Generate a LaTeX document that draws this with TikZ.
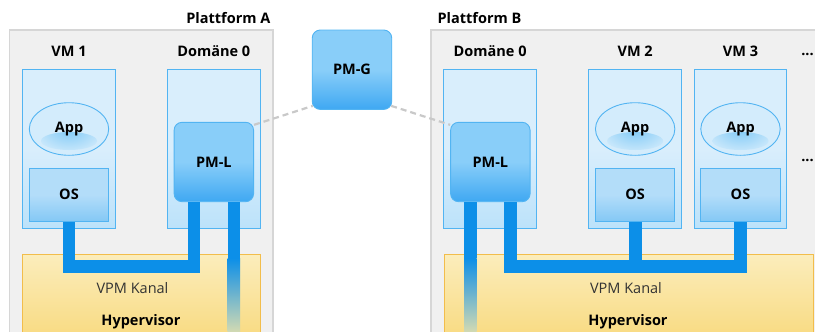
\documentclass[tikz,border=0pt]{standalone}
\usepackage{fontspec}
\setmainfont{Open Sans}
\usepackage{tikz}
\usetikzlibrary{positioning,shapes.geometric}

\definecolor{grau}{HTML}{F0F0F0}
\definecolor{graurand}{HTML}{D6D6D6}
\definecolor{vmrand}{HTML}{52B4F2}
\definecolor{vmoben}{HTML}{D9EEFC}
\definecolor{vmunten}{HTML}{BCE2FA}
\definecolor{applicht}{HTML}{D3ECFC}
\definecolor{appglanz}{HTML}{7FC9F6}
\definecolor{osoben}{HTML}{B3DDF9}
\definecolor{osunten}{HTML}{84C8F5}
\definecolor{pmoben}{HTML}{89CEF9}
\definecolor{pmunten}{HTML}{3FA8F2}
\definecolor{hvoben}{HTML}{FBEDBC}
\definecolor{hvunten}{HTML}{F8D776}
\definecolor{hvrand}{HTML}{F2BD4B}
\definecolor{kanalblau}{HTML}{0C8FE8}
\definecolor{blass}{HTML}{D3DAB2}
\definecolor{verbgrau}{HTML}{C9C9C9}
\definecolor{textgrau}{HTML}{333333}

\newcommand{\schrift}{\fontsize{14.5}{17}\selectfont}

\begin{document}
\begin{tikzpicture}[x=1pt,y=-1pt,inner sep=0pt,line join=miter,font=\schrift]
	\tikzstyle{plattform}=[draw=graurand,line width=1.2pt,fill=grau,minimum height=315pt]
	\tikzstyle{vm}=[draw=vmrand,line width=0.9pt,top color=vmoben,bottom color=vmunten,
										middle color=vmoben,minimum width=92.5pt,minimum height=158.7pt]
	\tikzstyle{app}=[ellipse,draw=vmrand,line width=0.9pt,fill=applicht,font=\schrift\bfseries,
										minimum width=79.4pt,minimum height=52.6pt,
										path picture={\shade[inner color=appglanz,outer color=applicht]
											([yshift=-12pt]path picture bounding box.center) ellipse (28pt and 9pt);}]
	\tikzstyle{os}=[draw=vmrand,line width=0.9pt,top color=osoben,bottom color=osunten,
										middle color=osoben,minimum width=79.4pt,minimum height=53pt,
										font=\schrift\bfseries]
	\tikzstyle{pm}=[draw=vmrand,line width=0.9pt,rounded corners=8pt,top color=pmoben,
										bottom color=pmunten,middle color=pmoben,minimum width=79.5pt,
										minimum height=79.4pt,font=\schrift\bfseries]
	\tikzstyle{hyp}=[draw=hvrand,line width=1pt,top color=hvoben,bottom color=hvunten,
										minimum height=100pt]
	\tikzstyle{titel}=[font=\schrift\bfseries]
	\tikzstyle{kanal}=[draw=kanalblau,line width=12.7pt]
	\tikzstyle{verb}=[draw=verbgrau,line width=2.2pt,dash pattern=on 6pt off 4pt]

	\clip (0,0) rectangle (815,332);

	\node[plattform,minimum width=263.5pt] (platA) at (141.25,187.5) {};
	\node[plattform,minimum width=399pt]   (platB) at (630.5,187.5) {};
	\node[titel,anchor=base east] (tA) at ([xshift=-3pt,yshift=5.7pt]platA.north east) {Plattform A};
	\node[titel,anchor=base west] (tB) at ([xshift=7pt,yshift=5.7pt]platB.north west) {Plattform B};

	\node[hyp,minimum width=237.6pt] (hypA) at (141.5,304) {};
	\node[hyp,minimum width=369.3pt] (hypB) at (628.65,304) {};

	\node[vm] (vm1)   at (69,148.65) {};
	\node[vm] (dom0A) at (213.8,148.65) {};
	\node[vm] (dom0B) at (490.15,148.65) {};
	\node[vm] (vm2)   at (635.15,148.65) {};
	\node[vm] (vm3)   at (740.5,148.65) {};

	\node[titel,anchor=base] (lvm1)   at ([yshift=12pt]vm1.north)   {VM 1};
	\node[titel,anchor=base] (ldom0A) at ([yshift=12pt]dom0A.north) {Domäne 0};
	\node[titel,anchor=base] (ldom0B) at ([yshift=12pt]dom0B.north) {Domäne 0};
	\node[titel,anchor=base] (lvm2)   at ([yshift=12pt]vm2.north)   {VM 2};
	\node[titel,anchor=base] (lvm3)   at ([yshift=12pt]vm3.north)   {VM 3};
	\node[titel,anchor=base] (mehr1)  at (807.5,56)  {...};
	\node[titel,anchor=base] (mehr2)  at (807.5,161) {...};

	\node[app] (app1) at (69,129)     {App};
	\node[os]  (os1)  at (69,194.8)   {OS};
	\node[app] (app2) at (635.15,129)   {App};
	\node[os]  (os2)  at (635.15,194.8) {OS};
	\node[app] (app3) at (740.5,129)   {App};
	\node[os]  (os3)  at (740.5,194.8) {OS};

	\node[pm] (pml1) at (213.85,162) {PM-L};
	\node[pm] (pml2) at (490.35,162) {PM-L};
	\node[pm] (pmg)  at (352,69.7)   {PM-G};

	\coordinate (kA) at (193.85,266.6);
	\coordinate (fA) at (233.85,258);
	\coordinate (kB) at (740.5,266.6);
	\coordinate (fB) at (470.35,258);

	\draw[kanal] (os1.south) |- (kA) -- ([xshift=-20pt]pml1.south);
	\draw[kanal] ([xshift=20pt]pml1.south) -- (fA);
	\shade[top color=kanalblau,bottom color=blass] (227.5,258) rectangle (240.2,332);

	\draw[kanal] ([xshift=20pt]pml2.south) |- (kB) -- (os3.south);
	\draw[kanal] (os2.south) -- (os2.south |- kB);
	\draw[kanal] ([xshift=-20pt]pml2.south) -- (fB);
	\shade[top color=kanalblau,bottom color=blass] (464,258) rectangle (476.7,332);

	\draw[verb] ([yshift=-3pt]pml1.north east) -- ([xshift=1pt,yshift=4pt]pmg.south west);
	\draw[verb] ([xshift=-1pt,yshift=4pt]pmg.south east) -- ([yshift=-3pt]pml2.north west);

	\node[text=textgrau,anchor=base] (vpmA) at (132.5,293.3) {VPM Kanal};
	\node[titel,anchor=base]         (hvA)  at (141,325)     {Hypervisor};
	\node[text=textgrau,anchor=base] (vpmB) at (626,293.3)   {VPM Kanal};
	\node[titel,anchor=base]         (hvB)  at (628,325)     {Hypervisor};
\end{tikzpicture}
\end{document}
